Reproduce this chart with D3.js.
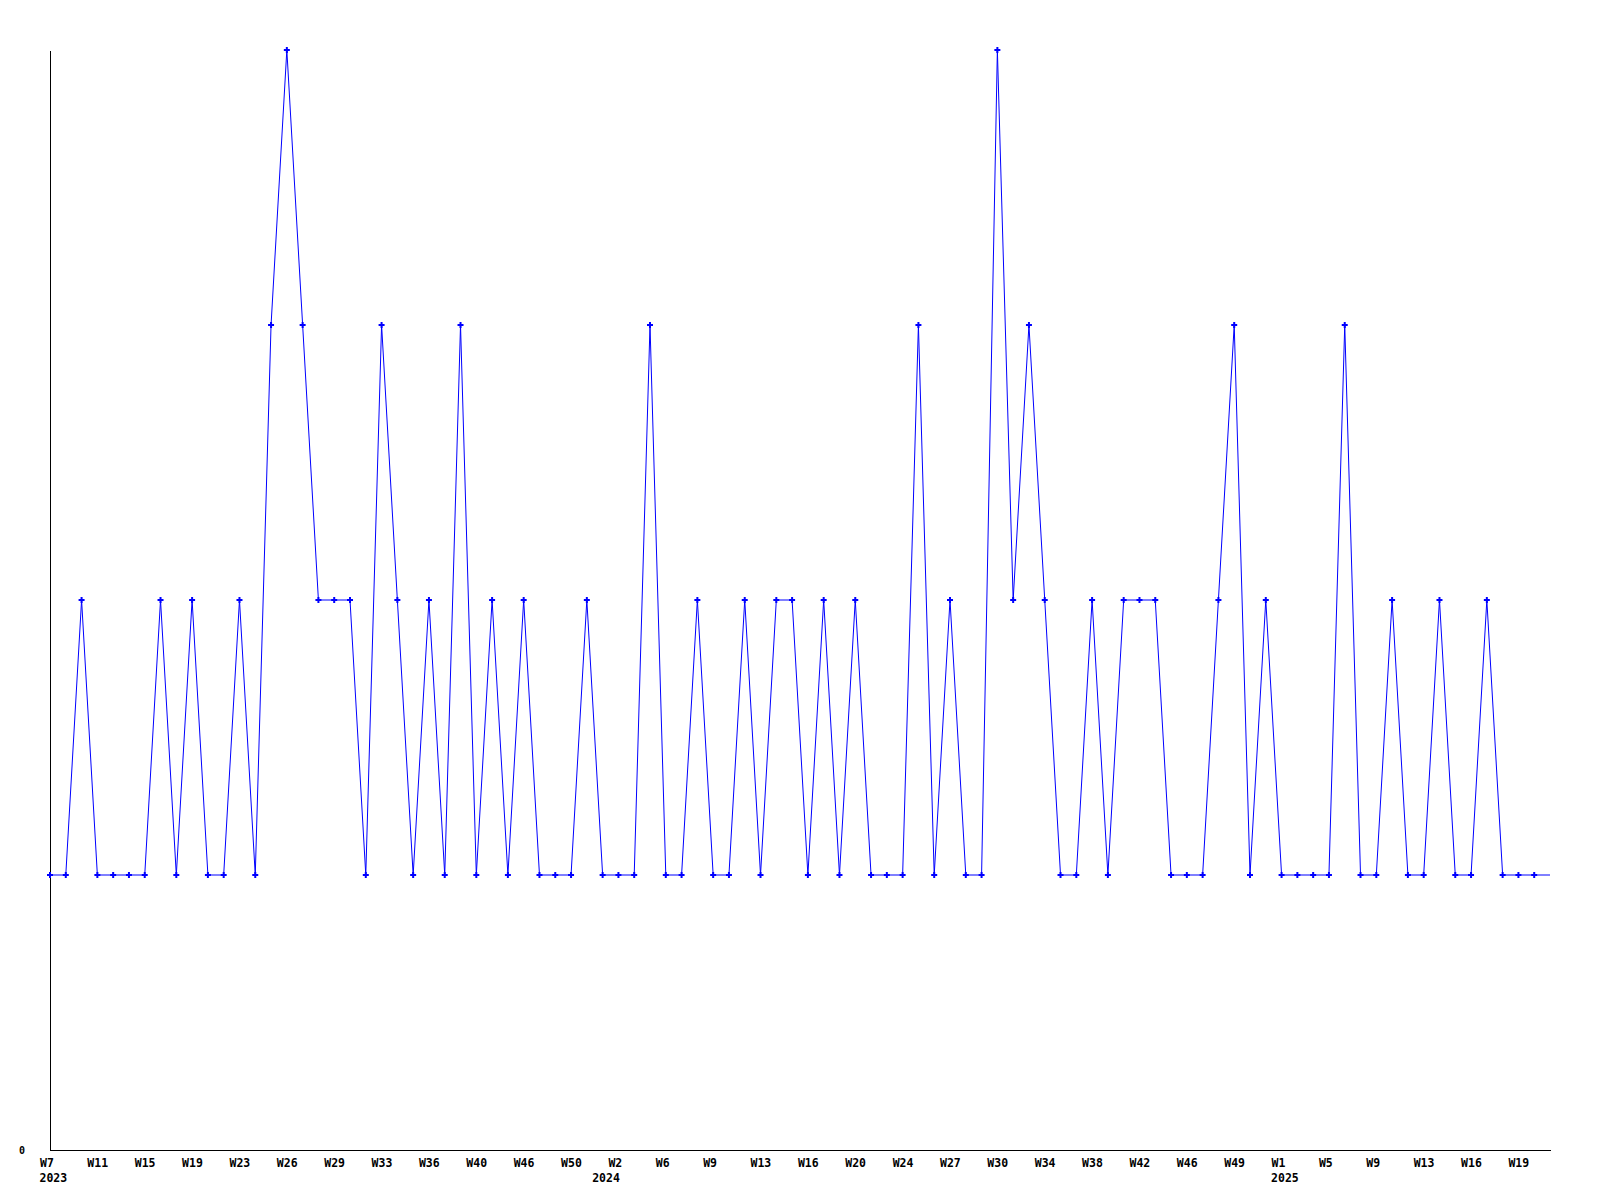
<!DOCTYPE html>
<html>
<head>
<meta charset="utf-8">
<script src="https://cdn.jsdelivr.net/npm/d3@7"></script>
<style>
  html, body { margin: 0; padding: 0; background: #fff; }
  svg { display: block; }
</style>
</head>
<body>
<div id="chart"></div>
<script>
// ---- data ----
const values = [
  1,1,2,1,1,1,1,2,1,2, 1,1,2,1,3,4,3,2,2,2,
  1,3,2,1,2,1,3,1,2,1, 2,1,1,1,2,1,1,1,3,1,
  1,2,1,1,2,1,2,2,1,2, 1,2,1,1,1,3,1,2,1,1,
  4,2,3,2,1,1,2,1,2,2, 2,1,1,1,2,3,1,2,1,1,
  1,1,3,1,1,2,1,1,2,1, 1,2,1,1,1,1
];
const weekLabels = [
  "W7","W11","W15","W19","W23","W26","W29","W33","W36","W40","W46","W50",
  "W2","W6","W9","W13","W16","W20","W24","W27","W30","W34","W38","W42",
  "W46","W49","W1","W5","W9","W13","W16","W19"
];
const labelEvery = 3;
const yearLabels = ["2023", "2024", "2025"];
const yearStartIndex = [0, 35, 78];
const yTicks = [0];

// ---- layout ----
const W = 1600, H = 1200;
const mLeft = 50, mRight = 1550, mTop = 50, mBottom = 1150;

const svg = d3.select("#chart").append("svg")
  .attr("width", W).attr("height", H)
  .attr("viewBox", `0 0 ${W} ${H}`);

const idx = d3.range(values.length);
const x = d3.scalePoint().domain(idx).range([mLeft, mRight]);
const y = d3.scaleLinear().domain([0, 4]).range([mBottom, mTop]);

const fontFam = "'DejaVu Sans Mono', 'Liberation Mono', monospace";

// y axis
const yAxis = svg.append("g")
  .attr("transform", `translate(${mLeft},0)`)
  .call(d3.axisLeft(y).tickValues(yTicks).tickSize(0).tickSizeOuter(0).tickPadding(25).tickFormat(d3.format("d")));
yAxis.select(".domain").attr("stroke", "#000").attr("shape-rendering", "crispEdges");
yAxis.selectAll("text")
  .attr("font-family", fontFam).attr("font-weight", "bold")
  .attr("font-size", "10px").attr("fill", "#000")
  .attr("dy", "0.3em");

// x axis
const tickIdx = idx.filter(i => i % labelEvery === 0);
const xAxis = svg.append("g")
  .attr("transform", `translate(0,${mBottom})`)
  .call(d3.axisBottom(x).tickValues(tickIdx).tickSize(0).tickSizeOuter(0)
    .tickFormat(d => weekLabels[d / labelEvery]));
xAxis.select(".domain").attr("stroke", "#000").attr("shape-rendering", "crispEdges")
  .attr("d", `M${mLeft},0.5H${mRight + 1}`);
xAxis.selectAll("text")
  .attr("font-family", fontFam).attr("font-weight", "bold")
  .attr("font-size", "11.5px").attr("fill", "#000")
  .attr("text-anchor", "start")
  .attr("x", -10.5).attr("y", 17).attr("dy", 0);

// year labels
svg.append("g").selectAll("text")
  .data(yearLabels)
  .join("text")
  .attr("x", (d, i) => x(yearStartIndex[i]) - 10.5)
  .attr("y", mBottom + 32)
  .attr("font-family", fontFam).attr("font-weight", "bold")
  .attr("font-size", "11.5px").attr("fill", "#000")
  .text(d => d);

// line
const line = d3.line().x((d, i) => x(i)).y(d => y(d));
svg.append("path")
  .datum(values)
  .attr("fill", "none")
  .attr("stroke", "#0000ff")
  .attr("stroke-width", 1)
  .attr("d", line);

// markers (last point has none in the reference)
const sym = d3.symbol().type(d3.symbolCross).size(20);
svg.append("g").selectAll("path")
  .data(values.slice(0, values.length - 1))
  .join("path")
  .attr("transform", (d, i) => `translate(${x(i)},${y(d)})`)
  .attr("d", sym)
  .attr("fill", "#0000ff");
</script>
</body>
</html>
